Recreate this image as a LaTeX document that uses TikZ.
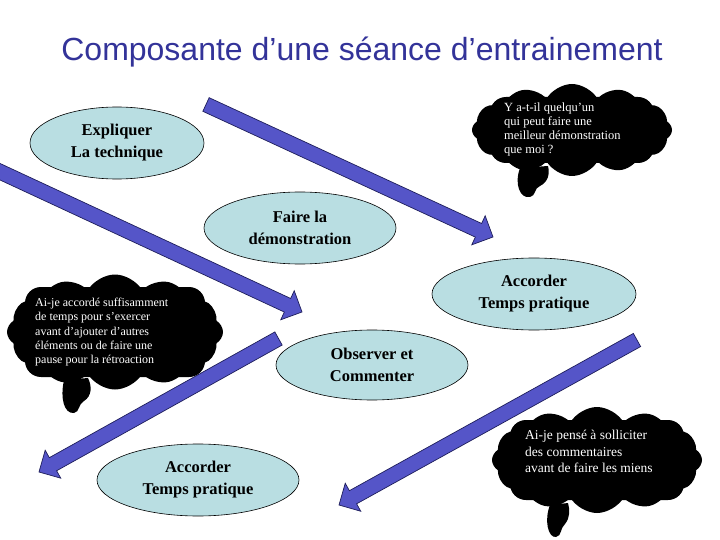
\documentclass[tikz,border=0pt]{standalone}
\usepackage{fontspec}
\setmainfont{Liberation Serif}
\newfontfamily\titlefont{Liberation Sans}
\usetikzlibrary{calc,shapes.geometric,shapes.symbols}
\definecolor{titleblue}{RGB}{51,51,153}
\definecolor{stepfill}{RGB}{185,222,226}
\definecolor{arrowblue}{RGB}{85,85,200}
\definecolor{arrowedge}{RGB}{30,30,90}
\tikzset{
  stepnode/.style={ellipse,draw=black,line width=0.6pt,fill=stepfill,align=center,inner sep=0pt,
    font=\fontsize{16.5}{22}\selectfont\bfseries},
  thought/.style={cloud,cloud puffs=12,cloud puff arc=120,cloud ignores aspect,fill=black,inner sep=0pt},
  thoughtcore/.style={rectangle,rounded corners=16pt,fill=black,inner sep=0pt},
  thoughttext/.style={text=white,align=left,inner sep=0pt,anchor=north west},
  flowarrow/.style={fill=arrowblue,draw=arrowedge,line width=0.7pt,line join=miter}
}
\newcommand{\blockarrow}[2]{%
  \coordinate (base) at ($(#2)!16pt!(#1)$);
  \filldraw[flowarrow] ($(#1)!7.5pt!90:(#2)$) -- ($(base)!7.5pt!-90:(#1)$) -- ($(base)!16pt!-90:(#1)$)
    -- (#2) -- ($(base)!16pt!90:(#1)$) -- ($(base)!7.5pt!90:(#1)$) -- ($(#1)!7.5pt!-90:(#2)$) -- cycle;}
\begin{document}
\begin{tikzpicture}[x=1pt,y=-1pt]
\useasboundingbox (0,0) rectangle (720,540);
\node[at={(362,61)},anchor=base,text=titleblue,font=\titlefont\fontsize{32}{38}\selectfont] (title) {Composante d’une séance d’entrainement};
\coordinate (a1s) at (206,104.5);
\coordinate (a1e) at (493,237);
\coordinate (a2s) at (-8,168);
\coordinate (a2e) at (302,312);
\coordinate (a3s) at (278.5,338.5);
\coordinate (a3e) at (39,472);
\coordinate (a4s) at (637,340);
\coordinate (a4e) at (339,505);
\blockarrow{a1s}{a1e}
\blockarrow{a2s}{a2e}
\blockarrow{a3s}{a3e}
\blockarrow{a4s}{a4e}
\node[stepnode,at={(117,143)},minimum width=174pt,minimum height=72pt] (expliquer) {Expliquer\\La technique};
\node[stepnode,at={(300,228)},minimum width=192pt,minimum height=72pt] (demo) {Faire la\\démonstration};
\node[stepnode,at={(534,294)},minimum width=204pt,minimum height=72pt] (pratique) {Accorder\\Temps pratique};
\node[stepnode,at={(372,365)},minimum width=192pt,minimum height=70pt] (observer) {Observer et\\Commenter};
\node[stepnode,at={(198,480)},minimum width=202pt,minimum height=72pt] (pratique2) {Accorder\\Temps pratique};
\node[thought,at={(572,130)},minimum width=200pt,minimum height=92pt] (doute1) {};
\node[thoughtcore,at={(572,130)},minimum width=164pt,minimum height=66pt] (doute1core) {};
\fill (520,168) .. controls (514,184) and (520,199) .. (530,197) .. controls (536,196) and (534,188) .. (540,186)
  .. controls (548,182) and (550,174) .. (548,166) -- cycle;
\node[thoughttext,at={(504,103)},font=\fontsize{12.5}{14}\selectfont] (doute1txt) {Y a-t-il quelqu’un\\qui peut faire une\\meilleur démonstration\\que moi ?};
\node[thought,at={(115,332)},minimum width=216pt,minimum height=115pt] (doute2) {};
\node[thoughtcore,at={(115,332)},minimum width=180pt,minimum height=90pt] (doute2core) {};
\fill (64,380) .. controls (60,398) and (64,414) .. (74,413) .. controls (80,412) and (78,404) .. (84,401)
  .. controls (92,396) and (92,386) .. (88,378) -- cycle;
\node[thoughttext,at={(35,298)},font=\fontsize{12}{14.2}\selectfont] (doute2txt) {Ai-je accordé suffisamment\\de temps pour s’exercer\\avant d’ajouter d’autres\\éléments ou de faire une\\pause pour la rétroaction};
\node[thought,at={(597,460)},minimum width=210pt,minimum height=106pt] (doute3) {};
\node[thoughtcore,at={(597,460)},minimum width=174pt,minimum height=80pt] (doute3core) {};
\fill (550,505) .. controls (544,520) and (548,538) .. (556,537) .. controls (562,536) and (560,528) .. (565,524)
  .. controls (570,518) and (570,510) .. (568,503) -- cycle;
\node[thoughttext,at={(525,430)},font=\fontsize{13.5}{16.5}\selectfont] (doute3txt) {Ai-je pensé à solliciter\\des commentaires\\avant de faire les miens};
\end{tikzpicture}
\end{document}
